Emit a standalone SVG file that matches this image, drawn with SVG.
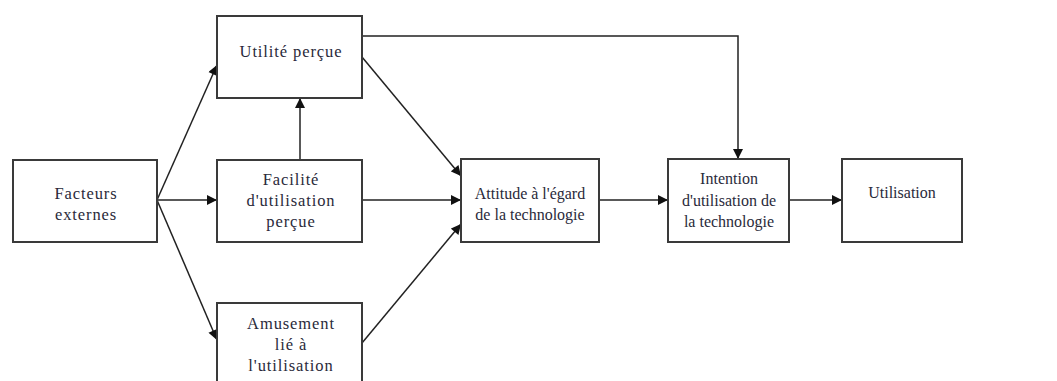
<svg xmlns="http://www.w3.org/2000/svg" width="1057" height="381" viewBox="0 0 1057 381">
<style>
.box{fill:#fff;stroke:#3a3a3a;stroke-width:2}
.lbl{font-family:'Liberation Serif','Times New Roman',serif;font-size:16px;fill:#2a2a3a;text-anchor:middle}
.big{font-size:16.5px;letter-spacing:0.9px}
.edge{fill:none;stroke:#222;stroke-width:1.5}
</style>
<defs>
<marker id="ah" viewBox="0 0 10 10" refX="10" refY="5" markerWidth="11" markerHeight="10" orient="auto" markerUnits="userSpaceOnUse">
<path d="M0,0 L10,5 L0,10 z" fill="#111"/>
</marker>
</defs>
<rect width="1057" height="381" fill="#fff"/>
<g id="connectors">
<path class="edge" d="M157,200 L217,65" marker-end="url(#ah)"/>
<path class="edge" d="M157,200 L217,200" marker-end="url(#ah)"/>
<path class="edge" d="M157,200 L217,340" marker-end="url(#ah)"/>
<path class="edge" d="M300,160 L300,98" marker-end="url(#ah)"/>
<path class="edge" d="M362,57 L461,176" marker-end="url(#ah)"/>
<path class="edge" d="M362,200 L461,200" marker-end="url(#ah)"/>
<path class="edge" d="M362,343 L461,224" marker-end="url(#ah)"/>
<path class="edge" d="M599,200 L668,200" marker-end="url(#ah)"/>
<path class="edge" d="M789,200 L842,200" marker-end="url(#ah)"/>
<path class="edge" d="M362,36 L738,36 L738,159" marker-end="url(#ah)"/>
</g>
<g id="facteurs">
<rect class="box" x="13" y="160" width="144" height="82"/>
<text class="lbl big" x="86" y="199">Facteurs</text>
<text class="lbl big" x="86" y="220">externes</text>
</g>
<g id="utilite">
<rect class="box" x="217" y="16" width="145" height="82"/>
<text class="lbl big" x="291" y="57">Utilité perçue</text>
</g>
<g id="facilite">
<rect class="box" x="217" y="160" width="145" height="82"/>
<text class="lbl big" x="291" y="185">Facilité</text>
<text class="lbl big" x="291" y="206">d'utilisation</text>
<text class="lbl big" x="291" y="227">perçue</text>
</g>
<g id="amusement">
<rect class="box" x="217" y="303" width="145" height="90"/>
<text class="lbl big" x="291" y="329">Amusement</text>
<text class="lbl big" x="291" y="350">lié à</text>
<text class="lbl big" x="291" y="371">l'utilisation</text>
</g>
<g id="attitude">
<rect class="box" x="461" y="159" width="138" height="83"/>
<text class="lbl" x="530" y="199">Attitude à l'égard</text>
<text class="lbl" x="530" y="220">de la technologie</text>
</g>
<g id="intention">
<rect class="box" x="668" y="159" width="121" height="83"/>
<text class="lbl" x="729" y="184">Intention</text>
<text class="lbl" x="729" y="206">d'utilisation de</text>
<text class="lbl" x="729" y="227">la technologie</text>
</g>
<g id="utilisation">
<rect class="box" x="842" y="159" width="120" height="83"/>
<text class="lbl" x="902" y="198">Utilisation</text>
</g>
</svg>
